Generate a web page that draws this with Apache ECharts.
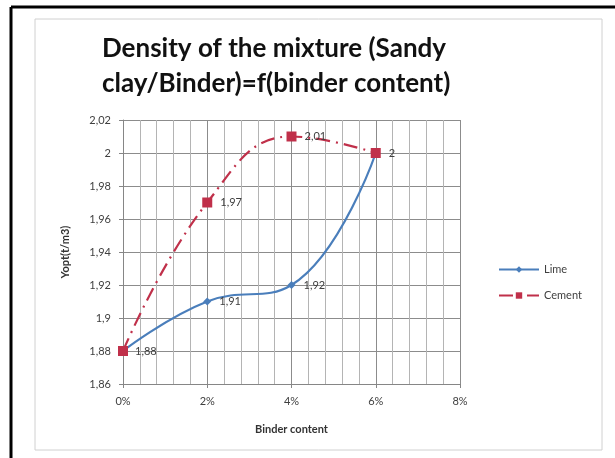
<!DOCTYPE html>
<html>
<head>
<meta charset="utf-8">
<script src="https://cdn.jsdelivr.net/npm/echarts@6/dist/echarts.min.js"></script>
<style>
  html, body { margin: 0; padding: 0; background: #fff; }
  #chart { width: 615px; height: 458px; }
</style>
</head>
<body>
<div id="chart"></div>
<script>
// binder content (%) and optimum density (t/m3)
const binder = [0, 2, 4, 6]
const lime = [1.88, 1.91, 1.92, 2.0]
const cement = [1.88, 1.97, 2.01, 2.0]
const seriesNames = ['Lime', 'Cement']

const comma = v => String(+v.toFixed(2)).replace('.', ',')
const toPairs = (xs, ys) => xs.map((x, i) => [x, ys[i]])

const chart = echarts.init(document.getElementById('chart'))

const axisColor = '#868686'
const font = 'Lato, "Open Sans", sans-serif'

chart.setOption({
  animation: false,
  textStyle: { fontFamily: font },
  graphic: [
    // outer black frame (left + top)
    { type: 'line', shape: { x1: 11, y1: 7, x2: 615, y2: 7 }, style: { stroke: '#000', lineWidth: 3 }, z: -1 },
    { type: 'line', shape: { x1: 11, y1: 7, x2: 11, y2: 458 }, style: { stroke: '#000', lineWidth: 3 }, z: -1 },
    // chart area panel
    { type: 'rect', shape: { x: 35, y: 19, width: 567, height: 431 }, style: { fill: '#fff', stroke: '#d0d0d0', lineWidth: 1 }, z: -1 }
  ],
  title: {
    text: 'Density of the mixture (Sandy\nclay/Binder)=f(binder content)',
    left: 97,
    top: 26,
    textStyle: { fontFamily: font, fontWeight: 'bold', fontSize: 26, lineHeight: 35, color: '#111' }
  },
  grid: { left: 123, right: 155, top: 120, bottom: 74 },
  legend: {
    orient: 'vertical',
    left: 493,
    top: 259,
    itemGap: 15,
    itemWidth: 40,
    itemHeight: 8,
    textStyle: { fontFamily: font, fontSize: 11, color: '#404040' },
    data: seriesNames
  },
  xAxis: {
    type: 'value',
    min: 0,
    max: 8,
    interval: 2,
    name: 'Binder content',
    nameLocation: 'middle',
    nameGap: 40,
    nameTextStyle: { fontFamily: font, fontWeight: 'bold', fontSize: 11, color: '#333' },
    axisLine: { lineStyle: { color: axisColor } },
    axisTick: { show: true, length: 4, lineStyle: { color: axisColor } },
    axisLabel: { formatter: '{value}%', fontSize: 11, color: '#404040', margin: 12 },
    splitLine: { show: true, lineStyle: { color: '#8c8c8c', width: 1 } },
    minorTick: { show: false, splitNumber: 5 },
    minorSplitLine: { show: true, lineStyle: { color: '#b4b4b4', width: 1 } }
  },
  yAxis: {
    type: 'value',
    min: 1.86,
    max: 2.02,
    interval: 0.02,
    name: 'Yopt(t/m3)',
    nameLocation: 'middle',
    nameGap: 52,
    nameRotate: 90,
    nameTextStyle: { fontFamily: font, fontWeight: 'bold', fontSize: 11, color: '#333' },
    axisLine: { show: true, lineStyle: { color: axisColor } },
    axisTick: { show: true, length: 4, lineStyle: { color: axisColor } },
    axisLabel: { formatter: v => comma(v), fontSize: 11, color: '#404040', margin: 12 },
    splitLine: { show: true, lineStyle: { color: '#8c8c8c', width: 1 } }
  },
  series: [
    {
      name: seriesNames[0],
      type: 'line',
      smooth: 0.45,
      data: toPairs(binder, lime),
      symbol: 'diamond',
      symbolSize: 8,
      z: 3,
      itemStyle: { color: '#4a7ebb' },
      lineStyle: { color: '#4a7ebb', width: 2.2 },
      label: {
        show: true,
        position: 'right',
        distance: 8,
        fontSize: 11,
        color: '#404040',
        formatter: p => p.dataIndex === binder.length - 1 ? '' : comma(p.value[1])
      }
    },
    {
      name: seriesNames[1],
      type: 'line',
      smooth: 0.45,
      data: toPairs(binder, cement),
      symbol: 'rect',
      symbolSize: 10,
      z: 4,
      itemStyle: { color: '#c0304a' },
      lineStyle: { color: '#c0304a', width: 2.2, type: [14, 6, 2, 6] },
      label: {
        show: true,
        position: 'right',
        distance: 8,
        fontSize: 11,
        color: '#404040',
        formatter: p => p.dataIndex === 0 ? '' : comma(p.value[1])
      }
    }
  ]
})
</script>
</body>
</html>
